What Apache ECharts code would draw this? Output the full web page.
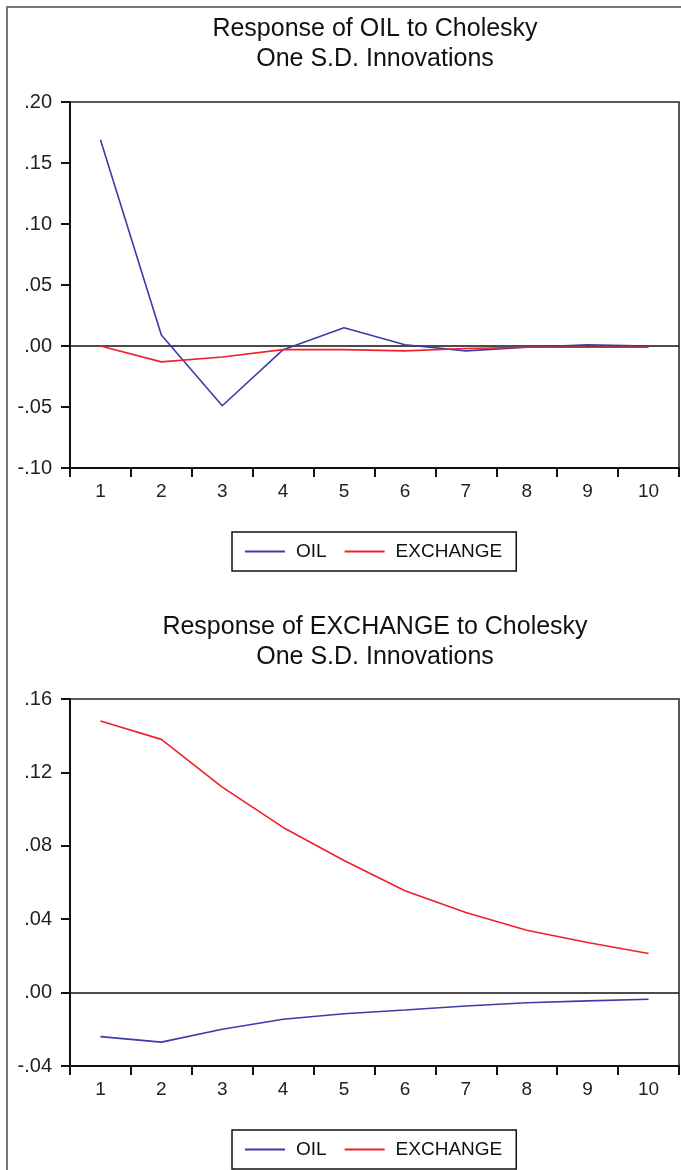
<!DOCTYPE html>
<html>
<head>
<meta charset="utf-8">
<script src="https://cdn.jsdelivr.net/npm/echarts@6/dist/echarts.min.js"></script>
<style>
html,body{margin:0;padding:0;background:#fff;}
#c{width:681px;height:1170px;}
</style>
</head>
<body>
<div id="c"></div>
<script>
const categories = ['1','2','3','4','5','6','7','8','9','10'];
// Response of OIL
const oilTop  = [0.169, 0.009, -0.049, -0.003, 0.015, 0.001, -0.004, -0.001, 0.001, 0.000];
const exchTop = [0.000, -0.013, -0.009, -0.003, -0.003, -0.004, -0.002, -0.001, -0.001, -0.001];
// Response of EXCHANGE
const oilBottom  = [-0.024, -0.027, -0.020, -0.0145, -0.0115, -0.0095, -0.0073, -0.0055, -0.0045, -0.0036];
const exchBottom = [0.148, 0.138, 0.112, 0.090, 0.072, 0.0555, 0.0437, 0.034, 0.0273, 0.0213];
const titleTop = 'Response of OIL to Cholesky\nOne S.D. Innovations';
const titleBottom = 'Response of EXCHANGE to Cholesky\nOne S.D. Innovations';
const seriesNames = ['OIL', 'EXCHANGE'];

const BLUE = '#3c3ca8';
const RED = '#f0202a';
const FONT = 'Liberation Sans';

function fmt(v) {
  const s = Math.abs(v).toFixed(2).replace(/^0/, '');
  return (v < -1e-9 ? '-' : '') + s;
}

function xAxis(gi) {
  return {
    type: 'category', gridIndex: gi, data: categories, boundaryGap: true,
    axisLine: {show: true, onZero: false, lineStyle: {color: '#111', width: 2}},
    axisTick: {show: true, length: 9, inside: false, lineStyle: {color: '#111', width: 2}},
    axisLabel: {margin: 14, fontSize: 19, fontFamily: FONT, color: '#222'},
    splitLine: {show: false}
  };
}
function yAxis(gi, min, max, interval) {
  return {
    type: 'value', gridIndex: gi, min: min, max: max, interval: interval,
    axisLine: {show: true, lineStyle: {color: '#111', width: 2}},
    axisTick: {show: true, length: 9, lineStyle: {color: '#111', width: 2}},
    axisLabel: {margin: 18, fontSize: 20, fontFamily: FONT, color: '#222', formatter: fmt},
    splitLine: {show: false}
  };
}
function line(name, data, color, gi, zero) {
  const s = {
    name: name, type: 'line', data: data, xAxisIndex: gi, yAxisIndex: gi,
    showSymbol: false, symbol: 'none', smooth: false, animation: false,
    lineStyle: {color: color, width: 1.6}, itemStyle: {color: color}, z: 3
  };
  if (zero) {
    s.markLine = {
      silent: true, symbol: 'none', animation: false,
      label: {show: false},
      lineStyle: {color: '#111', width: 1.6, type: 'solid'},
      data: [{yAxis: 0}], z: 2
    };
  }
  return s;
}
function legend(top) {
  return {
    left: 232, top: top, orient: 'horizontal',
    data: seriesNames, icon: 'rect', itemWidth: 40, itemHeight: 2, itemGap: 18,
    padding: [10, 14, 10, 13],
    borderColor: '#111', borderWidth: 1.5, backgroundColor: '#fff',
    textStyle: {fontSize: 19, fontFamily: FONT, color: '#111', padding: [0, 0, 0, 6]},
    selectedMode: false
  };
}

const chart = echarts.init(document.getElementById('c'), null, {renderer: 'canvas'});
chart.setOption({
  animation: false,
  backgroundColor: '#fff',
  graphic: [{
    type: 'rect', shape: {x: 7, y: 7, width: 720, height: 1220},
    style: {fill: null, stroke: '#777', lineWidth: 2}, silent: true, z: -1
  }],
  title: [
    {text: titleTop, left: 375, top: 14, textAlign: 'center', padding: 0,
     textStyle: {fontSize: 25, lineHeight: 30, fontWeight: 'normal', fontFamily: FONT, color: '#111'}},
    {text: titleBottom, left: 375, top: 612, textAlign: 'center', padding: 0,
     textStyle: {fontSize: 25, lineHeight: 30, fontWeight: 'normal', fontFamily: FONT, color: '#111'}}
  ],
  legend: [legend(532), legend(1130)],
  grid: [
    {left: 70, top: 102, width: 609, height: 366, show: true, borderColor: '#222', borderWidth: 1.5, backgroundColor: '#fff'},
    {left: 70, top: 699, width: 609, height: 367, show: true, borderColor: '#222', borderWidth: 1.5, backgroundColor: '#fff'}
  ],
  xAxis: [xAxis(0), xAxis(1)],
  yAxis: [yAxis(0, -0.1, 0.2, 0.05), yAxis(1, -0.04, 0.16, 0.04)],
  series: [
    line('OIL', oilTop, BLUE, 0, true),
    line('EXCHANGE', exchTop, RED, 0, false),
    line('OIL', oilBottom, BLUE, 1, true),
    line('EXCHANGE', exchBottom, RED, 1, false)
  ]
});
</script>
</body>
</html>
